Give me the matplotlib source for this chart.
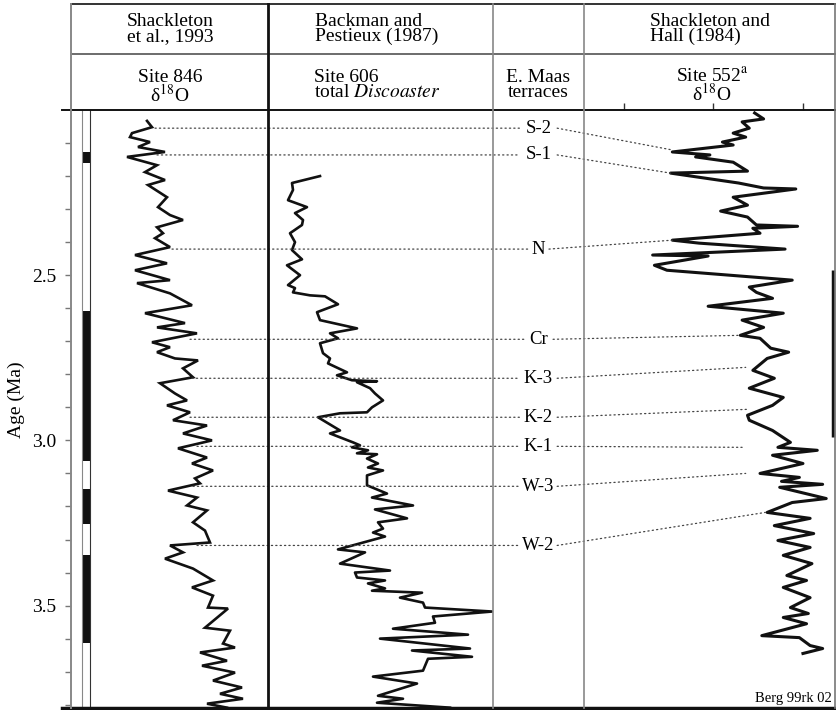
import numpy as np
import matplotlib
matplotlib.use("Agg")
import matplotlib.pyplot as plt
from matplotlib.lines import Line2D
from matplotlib.patches import ConnectionPatch

plt.rcParams['font.family'] = ['Liberation Serif', 'DejaVu Serif']
plt.rcParams['mathtext.fontset'] = 'stix'

W, H = 836, 710
AGE_TOP, AGE_BOT = 2.0, 3.81

# Site 846 benthic d18O (Shackleton et al., 1993)
age_846 = [2.033, 2.052, 2.070, 2.082, 2.097, 2.112, 2.127, 2.142, 2.167, 2.188,
           2.212, 2.227, 2.264, 2.294, 2.318, 2.333, 2.355, 2.373, 2.388, 2.415,
           2.439, 2.464, 2.485, 2.515, 2.524, 2.555, 2.591, 2.615, 2.645, 2.658,
           2.676, 2.703, 2.718, 2.733, 2.752, 2.758, 2.782, 2.809, 2.827, 2.858,
           2.879, 2.894, 2.915, 2.939, 2.955, 2.979, 3.000, 3.024, 3.052, 3.070,
           3.091, 3.115, 3.130, 3.152, 3.173, 3.197, 3.212, 3.248, 3.273, 3.309,
           3.318, 3.339, 3.358, 3.388, 3.424, 3.445, 3.470, 3.506, 3.509, 3.567,
           3.576, 3.615, 3.627, 3.642, 3.667, 3.682, 3.703, 3.727, 3.748, 3.767,
           3.782, 3.797, 3.809]
d18o_846 = [2.76, 2.81, 2.61, 2.59, 2.79, 2.67, 2.94, 2.56, 2.86, 2.74,
            2.94, 2.77, 2.96, 2.87, 2.99, 3.12, 2.86, 2.92, 2.84, 2.99,
            2.64, 2.96, 2.64, 2.99, 2.66, 2.99, 3.21, 2.74, 3.14, 2.86,
            3.26, 2.81, 2.99, 2.86, 3.04, 3.27, 3.12, 3.22, 2.89, 3.04,
            3.16, 2.96, 3.19, 3.02, 3.36, 3.12, 3.41, 3.07, 3.36, 3.21,
            3.42, 3.24, 3.29, 2.97, 3.26, 3.16, 3.36, 3.22, 3.34, 3.39,
            2.99, 3.12, 2.94, 3.22, 3.42, 3.21, 3.42, 3.37, 3.57, 3.34,
            3.59, 3.52, 3.64, 3.29, 3.56, 3.31, 3.64, 3.42, 3.71, 3.49,
            3.72, 3.36, 3.56]

# Site 606 total Discoaster (Backman and Pestieux, 1987)
age_606 = [2.200, 2.221, 2.242, 2.273, 2.294, 2.312, 2.333, 2.348, 2.373, 2.400,
           2.424, 2.452, 2.470, 2.500, 2.530, 2.539, 2.552, 2.561, 2.564, 2.588,
           2.612, 2.636, 2.661, 2.676, 2.691, 2.706, 2.736, 2.752, 2.767, 2.794,
           2.803, 2.818, 2.821, 2.824, 2.842, 2.858, 2.879, 2.900, 2.915, 2.918,
           2.930, 2.970, 2.979, 3.006, 3.015, 3.021, 3.030, 3.039, 3.042, 3.055,
           3.070, 3.082, 3.091, 3.106, 3.136, 3.161, 3.173, 3.197, 3.209, 3.236,
           3.248, 3.267, 3.279, 3.291, 3.330, 3.339, 3.373, 3.394, 3.400, 3.415,
           3.424, 3.433, 3.448, 3.455, 3.461, 3.476, 3.491, 3.506, 3.518, 3.533,
           3.552, 3.570, 3.588, 3.600, 3.630, 3.636, 3.655, 3.661, 3.697, 3.715,
           3.736, 3.773, 3.782, 3.794, 3.809]
disco_606 = [52, 24, 25, 20, 39, 27, 35, 34, 22, 27,
             24, 34, 19, 32, 20, 27, 25, 42, 57, 70,
             49, 52, 89, 62, 70, 52, 55, 62, 60, 79,
             69, 84, 109, 89, 102, 107, 115, 104, 99, 72,
             50, 72, 62, 85, 92, 84, 100, 89, 109, 99,
             110, 100, 115, 99, 99, 119, 104, 145, 107, 139,
             110, 115, 105, 117, 70, 97, 72, 122, 87, 89,
             117, 100, 117, 104, 154, 132, 155, 157, 224, 165,
             167, 125, 200, 112, 202, 144, 204, 160, 155, 105,
             149, 110, 135, 109, 182]

# Site 552 d18O (Shackleton and Hall, 1984)
age_552 = [2.009, 2.027, 2.036, 2.055, 2.070, 2.082, 2.097, 2.106, 2.127, 2.136,
           2.142, 2.158, 2.185, 2.191, 2.221, 2.236, 2.239, 2.264, 2.288, 2.306,
           2.324, 2.348, 2.352, 2.358, 2.373, 2.394, 2.403, 2.421, 2.439, 2.442,
           2.470, 2.485, 2.515, 2.536, 2.552, 2.570, 2.594, 2.615, 2.636, 2.658,
           2.682, 2.691, 2.721, 2.733, 2.752, 2.788, 2.812, 2.842, 2.870, 2.894,
           2.924, 2.939, 2.970, 3.006, 3.021, 3.030, 3.045, 3.070, 3.100, 3.112,
           3.124, 3.133, 3.142, 3.176, 3.188, 3.218, 3.236, 3.258, 3.282, 3.303,
           3.324, 3.348, 3.373, 3.409, 3.424, 3.445, 3.476, 3.506, 3.524, 3.536,
           3.555, 3.591, 3.597, 3.621, 3.630, 3.645]
d18o_552 = [3.23, 3.28, 3.16, 3.20, 3.11, 3.18, 3.05, 3.11, 2.77, 2.98,
            2.90, 3.11, 3.19, 2.76, 3.14, 3.28, 3.46, 3.11, 3.19, 3.04,
            3.19, 3.24, 3.47, 3.22, 3.26, 2.77, 2.92, 3.40, 2.66, 2.97,
            2.67, 2.74, 3.44, 3.20, 3.24, 3.33, 2.97, 3.39, 3.16, 3.28,
            3.15, 3.26, 3.32, 3.42, 3.30, 3.22, 3.34, 3.20, 3.39, 3.33,
            3.19, 3.20, 3.33, 3.43, 3.36, 3.58, 3.33, 3.50, 3.26, 3.48,
            3.38, 3.61, 3.37, 3.63, 3.44, 3.30, 3.54, 3.34, 3.56, 3.36,
            3.54, 3.39, 3.55, 3.41, 3.52, 3.39, 3.54, 3.43, 3.53, 3.39,
            3.52, 3.27, 3.48, 3.54, 3.61, 3.50]
ticks_552 = [2.5, 3.0, 3.5]

# normal polarity intervals (Ma)
normal_846 = [(2.127, 2.161), (2.609, 3.061), (3.148, 3.252), (3.348, 3.612)]
normal_552 = [(2.485, 2.991)]

# E. Maas terraces and their tie points in Site 846 and Site 552
terraces = ['S-2', 'S-1', 'N', 'Cr', 'K-3', 'K-2', 'K-1', 'W-3', 'W-2']
tie_age_846 = [2.055, 2.136, 2.421, 2.694, 2.812, 2.930, 3.018, 3.139, 3.318]
tie_d18o_846 = [2.84, 2.86, 3.01, 3.19, 3.21, 3.19, 3.26, 3.22, 3.26]
tie_age_552 = [2.121, 2.191, 2.394, 2.682, 2.779, 2.906, 3.021, 3.100, 3.218]
tie_d18o_552 = [2.77, 2.76, 2.77, 3.15, 3.18, 3.19, 3.16, 3.18, 3.29]

age_ticks_major = [2.5, 3.0, 3.5]
age_ticks_minor = np.arange(2.1, 3.81, 0.1)


def box(x0, x1, y0=110, y1=708):
    return [x0 / W, 1 - y1 / H, (x1 - x0) / W, (y1 - y0) / H]


def fline(xs, ys, **kw):
    fig.add_artist(Line2D([x / W for x in xs], [1 - y / H for y in ys],
                          transform=fig.transFigure, **kw))


def ftext(x, y, s, **kw):
    fig.text(x / W, 1 - y / H, s, **kw)


fig = plt.figure(figsize=(W / 100, H / 100), dpi=100)

ax846 = fig.add_axes(box(71, 268))
axmag = fig.add_axes(box(82, 90))
ax606 = fig.add_axes(box(268, 493))
axmaas = fig.add_axes(box(493, 584))
ax552 = fig.add_axes(box(584, 835))

for ax in (ax846, axmag, ax606, axmaas, ax552):
    ax.set_ylim(AGE_BOT, AGE_TOP)
    ax.patch.set_alpha(0)
    for s in ax.spines.values():
        s.set_visible(False)
    ax.set_xticks([])
    ax.set_yticks([])

# Site 846
ax846.set_xlim(2.0, 3.97)
ax846.plot(d18o_846, age_846, color='#111', lw=1.9, solid_joinstyle='miter')
ax846.set_yticks(age_ticks_major)
ax846.set_yticklabels(['2.5', '3.0', '3.5'], fontsize=14)
ax846.set_yticks(age_ticks_minor, minor=True)
ax846.tick_params(axis='y', which='both', direction='out', length=4.5,
                  color='#777', width=1.0, pad=6)

# polarity column
axmag.set_xlim(0, 1)
for top, bot in normal_846:
    axmag.axhspan(top, bot, color='#111', lw=0)
axmag.spines['left'].set_visible(True)
axmag.spines['left'].set_color('#888')
axmag.spines['right'].set_visible(True)
axmag.spines['right'].set_color('#333')

# Site 606
ax606.set_xlim(0, 225)
ax606.plot(disco_606, age_606, color='#111', lw=1.9)

# Site 552
ax552.set_xlim(2.2765, 3.679)
ax552.plot(d18o_552, age_552, color='#111', lw=2.2)
ax552.set_xticks(ticks_552)
ax552.set_xticklabels([])
ax552.xaxis.set_ticks_position('top')
ax552.tick_params(axis='x', direction='out', length=5, color='#333', width=1.0)
for top, bot in normal_552:
    ax552.plot([0.992, 0.992], [top, bot], transform=ax552.get_yaxis_transform(),
               color='#111', lw=2.5, clip_on=False, solid_capstyle='butt')

# terraces and correlation lines
axmaas.set_xlim(0, 1)
dots = dict(color='#444', lw=0.9, linestyle=(0, (1, 2.5)))
for name, a1, v1, a2, v2 in zip(terraces, tie_age_846, tie_d18o_846,
                                tie_age_552, tie_d18o_552):
    half = 0.07 + 0.045 * len(name)
    axmaas.text(0.5, a1, name, ha='center', va='center', fontsize=13.5)
    fig.add_artist(ConnectionPatch((v1, a1), (0.5 - half, a1), 'data', 'data',
                                   axesA=ax846, axesB=axmaas, **dots))
    fig.add_artist(ConnectionPatch((0.5 + half, a1), (v2, a2), 'data', 'data',
                                   axesA=axmaas, axesB=ax552, **dots))

# table frame
fline([71, 835], [4, 4], color='#333', lw=1.4)
fline([71, 835], [54, 54], color='#444', lw=1.1)
fline([62, 835], [110, 110], color='#111', lw=1.4)
fline([62, 835], [708, 708], color='#111', lw=2.5)
fline([71, 71], [4, 708], color='#888', lw=1.4)
fline([268, 268], [4, 708], color='#111', lw=2.0)
fline([493, 493], [4, 708], color='#888', lw=1.2)
fline([584, 584], [4, 708], color='#888', lw=1.2)
fline([835, 835], [4, 708], color='#777', lw=1.2)

hdr = dict(fontsize=14, linespacing=0.85, va='center')
ftext(170, 29, 'Shackleton\net al., 1993', ha='center', multialignment='center', **hdr)
ftext(377, 29, 'Backman and\nPestieux (1987)', ha='center', multialignment='left', **hdr)
ftext(710, 29, 'Shackleton and\nHall (1984)', ha='center', multialignment='left', **hdr)
ftext(170, 87, 'Site 846\nδ$^{18}$O', ha='center', multialignment='center', **hdr)
ftext(377, 85, 'Site 606\ntotal $\\it{Discoaster}$', ha='center', multialignment='left', **hdr)
ftext(538, 85, 'E. Maas\nterraces', ha='center', multialignment='center', **hdr)
ftext(712, 85, 'Site 552$^{\\rm a}$\nδ$^{18}$O', ha='center', multialignment='center', **hdr)

ftext(16, 400, 'Age (Ma)', rotation=90, ha='center', va='center', fontsize=14)
ftext(832, 702, 'Berg 99rk 02', ha='right', va='baseline', fontsize=10.5)

fig.savefig('out.png', dpi=100)
